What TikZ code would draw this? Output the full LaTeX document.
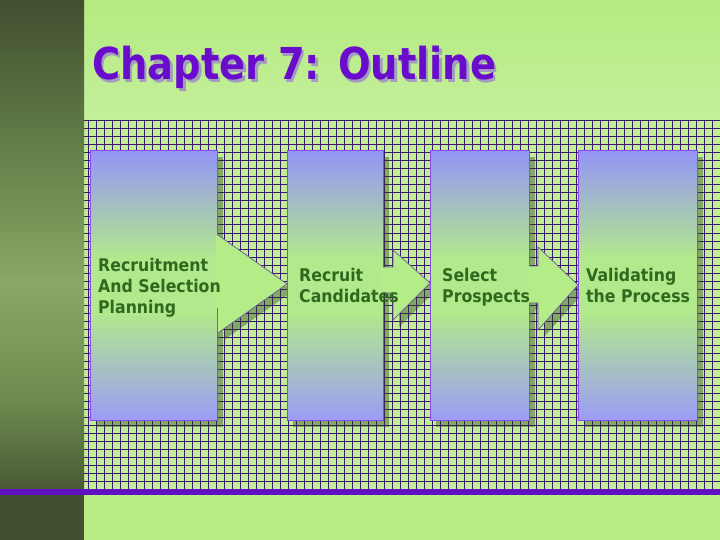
\documentclass[tikz,border=0pt]{standalone}
\usepackage{fontspec}
\usepackage{graphicx}
\newfontfamily\bodyfont{DejaVu Sans Bold}[FakeStretch=0.9]
\newfontfamily\titlefont{DejaVu Sans Bold}
\definecolor{bgc}{HTML}{B8EC84}
\definecolor{titletop}{HTML}{B4EA80}
\definecolor{titlebot}{HTML}{C6F09C}
\definecolor{cellc}{HTML}{C0EE94}
\definecolor{gridc}{HTML}{3A1870}
\definecolor{purplebar}{HTML}{6010C0}
\definecolor{stripdark}{HTML}{414F30}
\definecolor{stripa}{HTML}{4A5A35}
\definecolor{stripb}{HTML}{6E8A4F}
\definecolor{stripc}{HTML}{8AA866}
\definecolor{stripd}{HTML}{647E48}
\definecolor{shadowc}{HTML}{28401A}
\definecolor{boxtop}{HTML}{9494F8}
\definecolor{boxmid}{HTML}{B2E98C}
\definecolor{boxbot}{HTML}{9C9CF6}
\definecolor{boxline}{HTML}{8A4AF0}
\definecolor{arrowc}{HTML}{B4EC88}
\definecolor{arrline}{HTML}{6A5A9A}
\definecolor{txtc}{HTML}{2E6A1E}
\definecolor{titlec}{HTML}{6A0CCC}
\definecolor{titlesh}{HTML}{A49CC0}
\pgfdeclareverticalshading{leftstrip}{100bp}{color(0bp)=(stripa); color(25bp)=(stripa); color(34bp)=(stripb); color(46bp)=(stripc); color(60bp)=(stripd); color(75bp)=(stripdark); color(100bp)=(stripdark)}
\pgfdeclareverticalshading{panelshade}{100bp}{color(0bp)=(boxbot); color(25bp)=(boxbot); color(45bp)=(boxmid); color(55bp)=(boxmid); color(75bp)=(boxtop); color(100bp)=(boxtop)}
\begin{document}
\begin{tikzpicture}[x=1pt,y=-1pt,
  boxsh/.style={fill=shadowc, fill opacity=0.4},
  panel/.style={draw=boxline, line width=0.9pt, shading=panelshade, inner sep=0pt, anchor=north west},
  arrowbody/.style={fill=arrowc},
  arrowedge/.style={draw=arrline, line width=0.7pt, line join=miter},
  gridline/.style={gridc, line width=1pt},
  lbl/.style={font=\bodyfont\fontsize{17.5}{21}\selectfont, text=txtc, anchor=base west, inner sep=0pt},
  ttl/.style={font=\titlefont\fontsize{44}{50}\selectfont, anchor=base west, inner sep=0pt}]
\useasboundingbox (0,0) rectangle (720,540);
% background
\fill[bgc] (0,0) rectangle (720,540);
\shade[top color=titletop, bottom color=titlebot] (84,0) rectangle (720,121);
\fill[cellc] (84,121) rectangle (720,489);
\foreach \x in {88,96,...,720} \draw[gridline] (\x,121) -- (\x,489);
\foreach \y in {121,129,...,489} \draw[gridline] (84,\y) -- (720,\y);
\shade[shading=leftstrip] (0,0) rectangle (84,489);
\fill[stripdark] (0,494) rectangle (84,540);
\fill[purplebar] (0,489) rectangle (720,494.5);
% title (with its shadow in the same node)
\node[ttl, text=titlec] (title) at (92,80) {\makebox[0pt][l]{\hspace{2.5pt}\raisebox{-2.5pt}{\color{titlesh}\resizebox{404pt}{\height}{Chapter 7: Outline}}}\resizebox{404pt}{\height}{Chapter 7: Outline}};
% box 1
\fill[boxsh] (96,157) rectangle (223,427);
\node[panel, minimum width=127pt, minimum height=270pt] (b1) at (90,150) {};
% arrow 1
\fill[boxsh] (224,242) -- (293,291) -- (224,340) -- cycle;
\fill[arrowbody] (216,236) -- (218,235) -- (287,284) -- (218,333) -- (218,308) -- (216,308) -- cycle;
\draw[arrowedge] (218,235) -- (287,284) -- (218,333);
% box 2
\fill[boxsh] (293,157) rectangle (389,427);
\node[panel, minimum width=96pt, minimum height=270pt] (b2) at (287,150) {};
% arrow 2
\fill[boxsh] (389,274) -- (399,274) -- (399,257) -- (436,290) -- (399,327) -- (399,300) -- (389,300) -- cycle;
\fill[arrowbody] (381,267) -- (393,267) -- (393,250) -- (430,283) -- (393,320) -- (393,293) -- (381,293) -- cycle;
\draw[arrowedge] (383,267) -- (393,267) -- (393,250) -- (430,283) -- (393,320) -- (393,293) -- (383,293);
% box 3
\fill[boxsh] (436,157) rectangle (535,427);
\node[panel, minimum width=99pt, minimum height=270pt] (b3) at (430,150) {};
% arrow 3
\fill[boxsh] (535,273) -- (544,273) -- (544,254) -- (584,292) -- (544,337) -- (544,310) -- (535,310) -- cycle;
\fill[arrowbody] (527,266) -- (538,266) -- (538,247) -- (578,285) -- (538,330) -- (538,303) -- (527,303) -- cycle;
\draw[arrowedge] (529,266) -- (538,266) -- (538,247) -- (578,285) -- (538,330) -- (538,303) -- (529,303);
% box 4
\fill[boxsh] (584,157) rectangle (703,427);
\node[panel, minimum width=119pt, minimum height=270pt] (b4) at (578,150) {};
% labels
\node[lbl] (t1a) at (98,271) {Recruitment};
\node[lbl] (t1b) at (98,292) {And Selection};
\node[lbl] (t1c) at (98,313) {Planning};
\node[lbl] (t2a) at (299,281) {Recruit};
\node[lbl] (t2b) at (299,302) {Candidates};
\node[lbl] (t3a) at (442,281) {Select};
\node[lbl] (t3b) at (442,302) {Prospects};
\node[lbl] (t4a) at (586,281) {Validating};
\node[lbl] (t4b) at (586,302) {the Process};
\end{tikzpicture}
\end{document}
